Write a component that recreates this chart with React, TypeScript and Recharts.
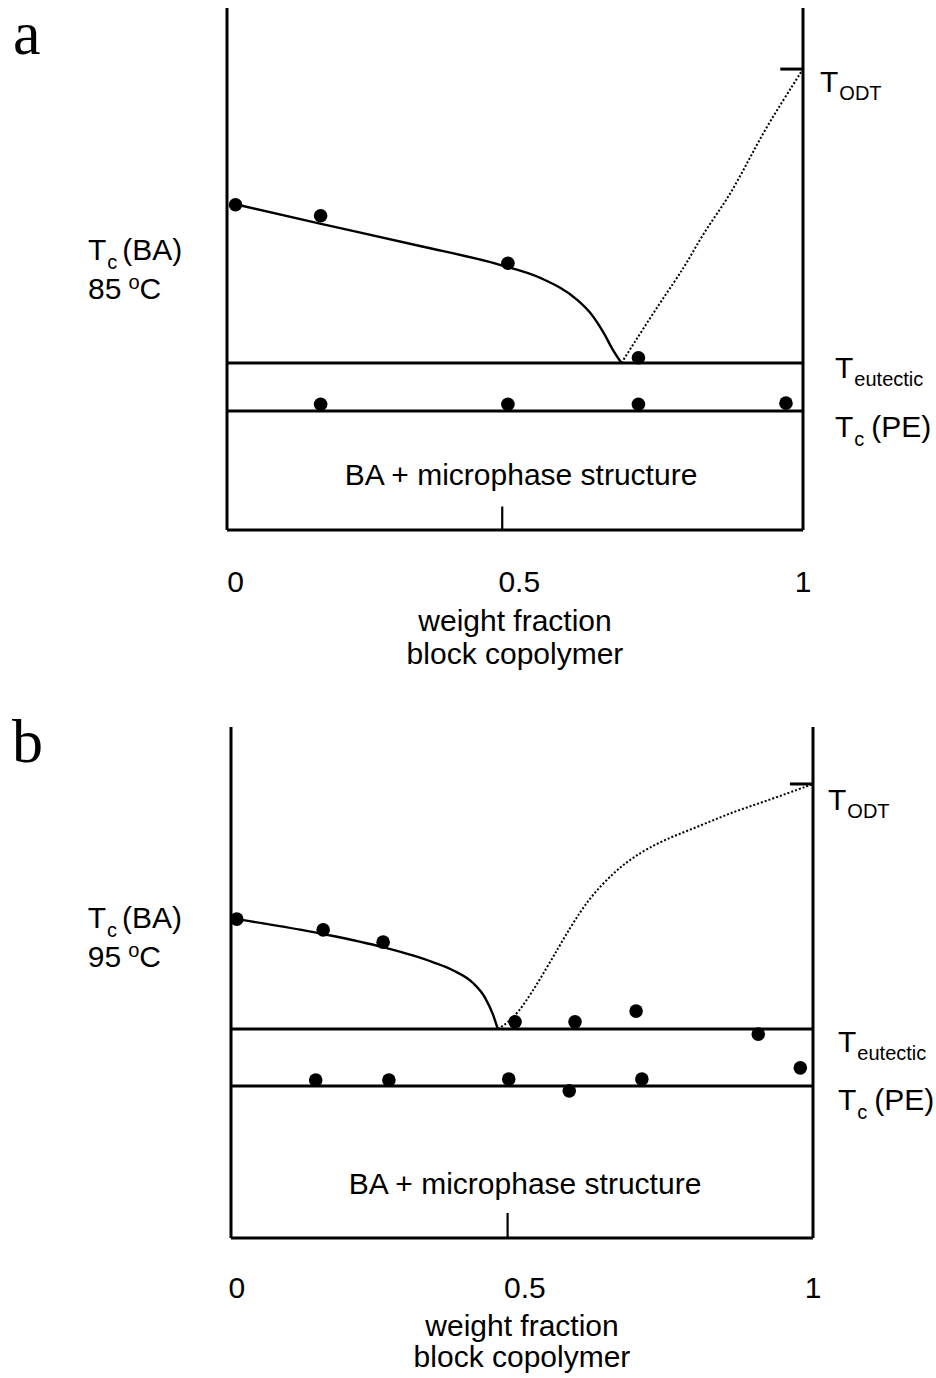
import { ComposedChart, XAxis, YAxis, Line, Scatter, ReferenceLine, ReferenceDot } from "recharts"

const SANS = '"Liberation Sans", Arial, Helvetica, sans-serif'
const SERIF = '"Liberation Serif", "Times New Roman", serif'

// composition axis: weight fraction of block copolymer
const xTicks = [0, 0.5, 1]
const midTickX = 0.47

// temperatures are on a relative 0..100 scale (no numeric axis in the diagram)

// panel a — BA crystallised at 85 oC
const aTcBA = 62.3
const aEutectic = 32
const aTcPE = 22.8
const aODT = 88.3
const aLiqX = [0, 0.145, 0.325, 0.466, 0.537, 0.602, 0.625, 0.649, 0.665, 0.68]
const aLiqY = [62.4, 58.8, 54.4, 50.8, 48.3, 44.1, 41.6, 37.7, 34.5, 32]
const aOdtX = [0.68, 0.751, 0.792, 0.824, 0.866, 0.898, 0.929, 0.965, 1]
const aOdtY = [32, 44.1, 50.4, 56.9, 63.2, 69.5, 76.0, 82.3, 88.3]
const aDotX = [0, 0.15, 0.48, 0.71, 0.15, 0.48, 0.71, 0.97]
const aDotY = [62.3, 60.2, 51.1, 33.0, 24.1, 24.1, 24.1, 24.3]

// panel b — BA crystallised at 95 oC
const bTcBA = 62.4
const bEutectic = 40.9
const bTcPE = 29.75
const bODT = 88.85
const bLiqX = [0, 0.149, 0.254, 0.34, 0.375, 0.41, 0.431, 0.445, 0.453]
const bLiqY = [62.4, 59.5, 56.9, 54.0, 52.4, 49.9, 47.0, 43.6, 40.9]
const bOdtX = [0.453, 0.486, 0.539, 0.579, 0.613, 0.653, 0.688, 0.74, 0.799, 0.856, 0.914, 1]
const bOdtY = [40.9, 43.2, 53.0, 60.9, 66.7, 71.4, 74.6, 77.9, 80.4, 83.2, 85.3, 88.85]
const bDotX = [0, 0.15, 0.254, 0.483, 0.587, 0.693, 0.905, 0.978, 0.137, 0.264, 0.472, 0.577, 0.703]
const bDotY = [62.4, 60.3, 57.9, 42.3, 42.3, 44.4, 39.9, 33.3, 30.9, 30.9, 31.1, 28.8, 31.1]

const zip = (xs: number[], ys: number[]) => xs.map((x, i) => ({ x, y: ys[i] }))

const dotShape = (p: any) => <circle cx={p.cx} cy={p.cy} r={6.8} fill="#000" />

function TLabel({ viewBox, sub, tail, dx, dy, subDy = 9 }: any) {
  if (!viewBox) return null
  const x = viewBox.x + viewBox.width + dx
  const y = viewBox.y + dy
  return (
    <text x={x} y={y} fontFamily={SANS} fontSize={30} fill="#000">
      T
      <tspan fontSize={20} dx={1} dy={subDy}>{sub}</tspan>
      {tail ? <tspan fontSize={30} dx={7} dy={-subDy}>{tail}</tspan> : null}
    </text>
  )
}

function TcLabel({ viewBox, temp, dx, dy1, dy2 }: any) {
  if (!viewBox) return null
  const x = viewBox.x + dx
  return (
    <g fontFamily={SANS} fill="#000">
      <text x={x} y={viewBox.y + dy1} fontSize={30}>
        T<tspan fontSize={20} dx={1} dy={9}>c</tspan>
        <tspan fontSize={30} dx={5} dy={-9}>(BA)</tspan>
      </text>
      <text x={x} y={viewBox.y + dy2} fontSize={30}>
        {temp}
        <tspan fontSize={20} dx={7} dy={-10}>o</tspan>
        <tspan fontSize={30} dy={10}>C</tspan>
      </text>
    </g>
  )
}

function Letter({ viewBox, text, dx, dy }: any) {
  if (!viewBox) return null
  return (
    <text x={viewBox.x + dx} y={viewBox.y + dy} fontFamily={SERIF} fontSize={62} fill="#000">
      {text}
    </text>
  )
}

function RegionLabel({ viewBox, dx, dy }: any) {
  if (!viewBox) return null
  return (
    <text x={viewBox.x + viewBox.width / 2 + dx} y={viewBox.y + dy} textAnchor="middle" fontFamily={SANS} fontSize={30} fill="#000">
      BA + microphase structure
    </text>
  )
}

function AxisTitle({ viewBox, d1, d2 }: any) {
  if (!viewBox) return null
  const cx = viewBox.x + viewBox.width / 2
  return (
    <g fontFamily={SANS} fontSize={30} fill="#000">
      <text x={cx} y={viewBox.y + d1} textAnchor="middle">weight fraction</text>
      <text x={cx} y={viewBox.y + d2} textAnchor="middle">block copolymer</text>
    </g>
  )
}

function Panel(p: any) {
  const { letter, temp, tc, eutectic, pe, odt, liquidus, odtCurve, dots, xMin, top, height, margin, axisH, o } = p
  const line = { stroke: "#000", strokeWidth: 3 }
  return (
    <div style={{ position: "absolute", left: 0, top }}>
      <ComposedChart width={936} height={height} margin={margin}>
        <XAxis
          dataKey="x"
          type="number"
          domain={[xMin, 1]}
          ticks={xTicks}
          tickLine={false}
          axisLine={false}
          tickSize={0}
          tickMargin={o.tickMargin}
          height={axisH}
          tick={{ fontSize: 30, fill: "#000", fontFamily: SANS }}
          label={<AxisTitle d1={o.title1} d2={o.title2} />}
        />
        <YAxis dataKey="y" type="number" domain={[0, 100]} hide />

        <ReferenceLine x={xMin} {...line} label={<Letter text={letter} dx={o.letterDx} dy={o.letterDy} />} />
        <ReferenceLine x={1} {...line} />
        <ReferenceLine y={0} {...line} label={<RegionLabel dx={o.regionDx} dy={o.regionDy} />} />
        <ReferenceLine y={eutectic} {...line} label={<TLabel sub="eutectic" dx={o.tDx} dy={o.eutDy} subDy={8} />} />
        <ReferenceLine y={pe} {...line} label={<TLabel sub="c" tail="(PE)" dx={o.tDx} dy={o.peDy} />} />
        <ReferenceLine
          segment={[{ x: 0.96, y: odt }, { x: 1, y: odt }]}
          {...line}
          label={<TLabel sub="ODT" dx={o.odtDx} dy={o.odtDy} subDy={8} />}
        />
        <ReferenceLine segment={[{ x: midTickX, y: 0 }, { x: midTickX, y: o.tickLen }]} stroke="#000" strokeWidth={2.2} />

        <Line data={liquidus} dataKey="y" type="monotone" dot={false} stroke="#000" strokeWidth={2.4} isAnimationActive={false} />
        <Line
          data={odtCurve}
          dataKey="y"
          type="basis"
          dot={false}
          stroke="#000"
          strokeWidth={2}
          strokeDasharray="2 2"
          isAnimationActive={false}
        />
        <Scatter data={dots} dataKey="y" shape={dotShape} isAnimationActive={false} />

        <ReferenceDot x={0} y={tc} r={0} fill="none" stroke="none" label={<TcLabel temp={temp} dx={o.tcDx} dy1={o.tcDy1} dy2={o.tcDy2} />} />
      </ComposedChart>
    </div>
  )
}

export default function App() {
  return (
    <div style={{ position: "absolute", left: 0, top: 0, width: 936, height: 1378, background: "#fff" }}>
      <Panel
        letter="a"
        temp="85"
        tc={aTcBA}
        eutectic={aEutectic}
        pe={aTcPE}
        odt={aODT}
        liquidus={zip(aLiqX, aLiqY)}
        odtCurve={zip(aOdtX, aOdtY)}
        dots={zip(aDotX, aDotY)}
        xMin={-0.015}
        top={0}
        height={700}
        margin={{ top: 8, left: 227, right: 133, bottom: 20 }}
        axisH={150}
        o={{
          tickMargin: 41, title1: 101, title2: 134,
          letterDx: -214, letterDy: 46,
          regionDx: 6, regionDy: -45,
          tDx: 32, eutDy: 15, peDy: 26, odtDx: 17, odtDy: 23,
          tickLen: 4.5,
          tcDx: -147.5, tcDy1: 55, tcDy2: 94,
        }}
      />
      <Panel
        letter="b"
        temp="95"
        tc={bTcBA}
        eutectic={bEutectic}
        pe={bTcPE}
        odt={bODT}
        liquidus={zip(bLiqX, bLiqY)}
        odtCurve={zip(bOdtX, bOdtY)}
        dots={zip(bDotX, bDotY)}
        xMin={-0.01}
        top={700}
        height={678}
        margin={{ top: 27, left: 231, right: 123, bottom: 20 }}
        axisH={120}
        o={{
          tickMargin: 39, title1: 98, title2: 129,
          letterDx: -219, letterDy: 35,
          regionDx: 3, regionDy: -44,
          tDx: 25, eutDy: 23, peDy: 24, odtDx: 15, odtDy: 26,
          tickLen: 4.9,
          tcDx: -149, tcDy1: 9, tcDy2: 48,
        }}
      />
    </div>
  )
}
